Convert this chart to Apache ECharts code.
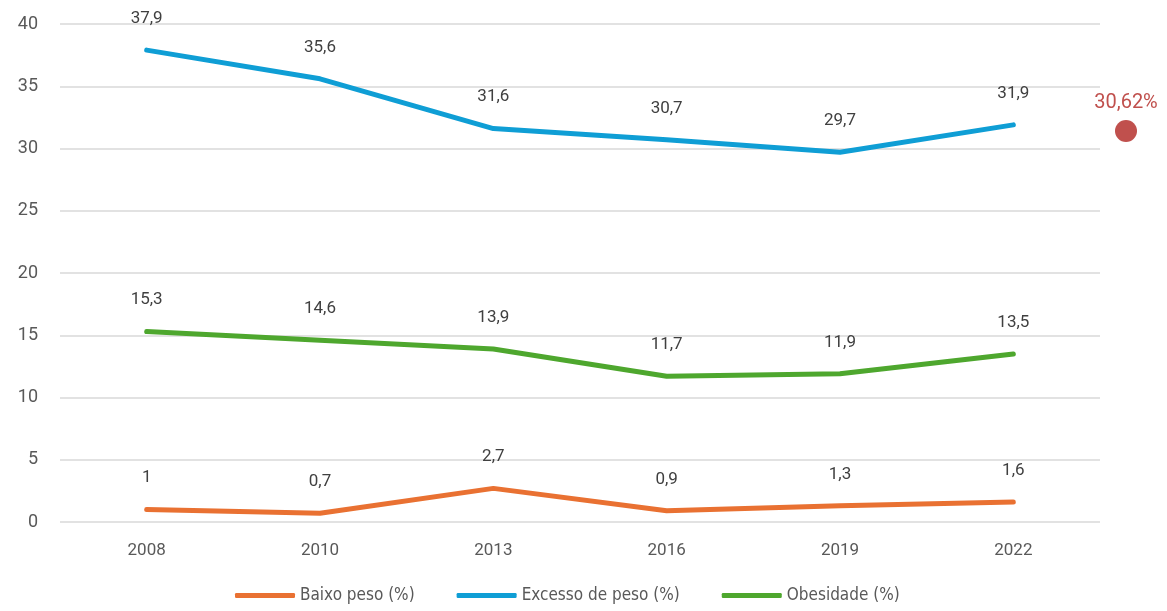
<!DOCTYPE html>
<html>
<head>
<meta charset="utf-8">
<script src="https://cdn.jsdelivr.net/npm/echarts@6/dist/echarts.min.js"></script>
<style>
  html, body { margin: 0; padding: 0; background: #fff; }
  #chart { width: 1167px; height: 611px; }
</style>
</head>
<body>
<div id="chart"></div>
<script>
// anos
var anos = ["2008", "2010", "2013", "2016", "2019", "2022"];
// séries (%)
var baixoPeso = [1, 0.7, 2.7, 0.9, 1.3, 1.6];
var excessoPeso = [37.9, 35.6, 31.6, 30.7, 29.7, 31.9];
var obesidade = [15.3, 14.6, 13.9, 11.7, 11.9, 13.5];
// ponto de referência à direita
var refPonto = [31.4];
var refTexto = "30,62%";

var myChart = echarts.init(document.getElementById("chart"));
var fmt = function (p) {
  return String(p.value).replace(".", ",");
};
var linha = function (name, data, color) {
  return {
    name: name,
    type: "line",
    data: data,
    symbol: "circle",
    symbolSize: 2,
    showSymbol: true,
    showAllSymbol: true,
    lineStyle: { width: 5, color: color, cap: "round", join: "round" },
    itemStyle: { color: color },
    label: {
      show: true,
      position: "top",
      distance: 22,
      color: "#404040",
      fontSize: 17,
      fontFamily: "Roboto",
      formatter: fmt,
    },
  };
};
var option = {
  animation: false,
  grid: [
    { left: 60, right: 67, top: 24, bottom: 89 },
    { left: 1100, width: 52, top: 24, bottom: 89 },
  ],
  legend: {
    bottom: 2,
    left: 230,
    itemWidth: 60,
    itemHeight: 5,
    itemGap: 42,
    textStyle: {
      color: "#595959",
      fontSize: 17,
      fontFamily: "DejaVu Sans Condensed",
    },
    data: [
      { name: "Baixo peso (%)", icon: "roundRect" },
      { name: "Excesso de peso (%)", icon: "roundRect" },
      { name: "Obesidade (%)", icon: "roundRect" },
    ],
  },
  xAxis: [
    {
      type: "category",
      data: anos,
      gridIndex: 0,
      axisLine: { show: false },
      axisTick: { show: false },
      axisLabel: { color: "#595959", fontSize: 17, margin: 20, fontFamily: "Roboto" },
    },
    {
      type: "category",
      data: [""],
      gridIndex: 1,
      show: false,
    },
  ],
  yAxis: [
    {
      type: "value",
      min: 0,
      max: 40,
      interval: 5,
      gridIndex: 0,
      axisLine: { show: false },
      axisTick: { show: false },
      axisLabel: { color: "#595959", fontSize: 18, margin: 22, fontFamily: "Roboto" },
      splitLine: { lineStyle: { color: "#d9d9d9", width: 1.5 } },
    },
    {
      type: "value",
      min: 0,
      max: 40,
      gridIndex: 1,
      show: false,
    },
  ],
  series: [
    linha("Baixo peso (%)", baixoPeso, "#E97132"),
    linha("Excesso de peso (%)", excessoPeso, "#0F9ED5"),
    linha("Obesidade (%)", obesidade, "#4EA72E"),
    {
      type: "scatter",
      xAxisIndex: 1,
      yAxisIndex: 1,
      data: refPonto,
      symbolSize: 22,
      itemStyle: { color: "#C0504D", opacity: 1 },
      label: {
        show: true,
        position: "top",
        distance: 7,
        color: "#C0504D",
        fontSize: 20,
        fontFamily: "Roboto",
        formatter: refTexto,
      },
    },
  ],
};
myChart.setOption(option);
window.onresize = myChart.resize;
</script>
</body>
</html>
